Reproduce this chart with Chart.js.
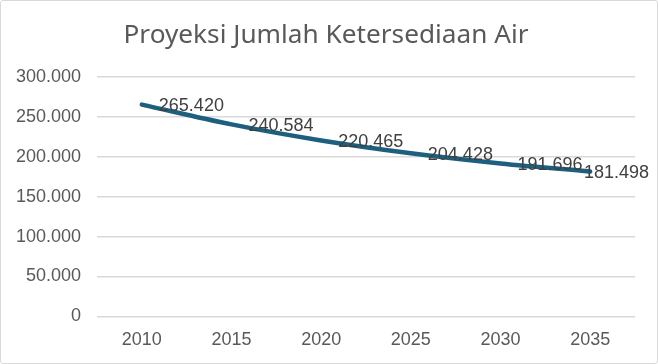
<!DOCTYPE html>
<html>
<head>
<meta charset="utf-8">
<script src="https://cdn.jsdelivr.net/npm/chart.js@4"></script>
<style>
  html, body { margin: 0; padding: 0; background: #fff; }
  #box { width: 658px; height: 364px; box-sizing: border-box; border: 1px solid #d9d9d9; border-radius: 3px; }
</style>
</head>
<body>
<div id="box"><canvas id="linechart"></canvas></div>
<script>
const years = ['2010', '2015', '2020', '2025', '2030', '2035'];
const airValues = [265420, 240584, 220465, 204428, 191696, 181498];
const yTicks = [0, 50000, 100000, 150000, 200000, 250000, 300000];
const titleText = 'Proyeksi Jumlah Ketersediaan Air';

const fmt = v => String(v).replace(/\B(?=(\d{3})+(?!\d))/g, '.');

// title drawn by hand so its width can be matched
const titlePlugin = {
    id: 'titlePlugin',
    beforeDraw(chart) {
        const ctx = chart.ctx;
        ctx.save();
        ctx.font = '25px "Noto Sans", "Open Sans", sans-serif';
        ctx.fillStyle = '#595959';
        ctx.textBaseline = 'alphabetic';
        const w = ctx.measureText(titleText).width;
        const target = 405;
        ctx.translate(chart.width / 2 - target / 2 - 3, 42);
        ctx.scale(target / w, 1);
        ctx.fillText(titleText, 0, 0);
        ctx.restore();
    }
};

// labels to the right of each point, pushed back inside the canvas if needed
const pointLabels = {
    id: 'pointLabels',
    afterDatasetsDraw(chart) {
        const ctx = chart.ctx;
        const meta = chart.getDatasetMeta(0);
        ctx.save();
        ctx.font = '18px "Liberation Sans", Arial, sans-serif';
        ctx.fillStyle = '#404040';
        ctx.textBaseline = 'middle';
        meta.data.forEach((pt, i) => {
            const txt = fmt(airValues[i]);
            const w = ctx.measureText(txt).width;
            let x = pt.x + 17;
            if (x + w > chart.width - 8) x = chart.width - 8 - w;
            ctx.fillText(txt, x, pt.y + 1.5);
        });
        ctx.restore();
    }
};

const ctx = document.getElementById('linechart').getContext('2d');
const linechart = new Chart(ctx, {
    type: 'line',
    data: {
        labels: years,
        datasets: [{
            label: 'Ketersediaan Air',
            data: airValues,
            borderColor: '#1c5f7e',
            borderWidth: 4.5,
            borderCapStyle: 'round',
            tension: 0.35,
            pointRadius: 0,
            fill: false
        }]
    },
    options: {
        responsive: true,
        maintainAspectRatio: false,
        animation: false,
        layout: { padding: { top: 76, right: 22, bottom: 7, left: 0 } },
        plugins: {
            legend: { display: false },
            tooltip: { enabled: false },
            title: { display: false }
        },
        scales: {
            x: {
                offset: true,
                grid: { display: false },
                border: { display: false },
                ticks: { color: '#595959', font: { family: '"Liberation Sans", Arial, sans-serif', size: 18 }, padding: 5 }
            },
            y: {
                min: 0,
                max: 300000,
                afterBuildTicks: axis => { axis.ticks = yTicks.map(v => ({ value: v })); },
                afterFit: axis => { axis.width = 96; },
                grid: { color: '#d9d9d9', lineWidth: 1.5, drawTicks: false },
                border: { display: false },
                ticks: {
                    color: '#595959',
                    font: { family: '"Liberation Sans", Arial, sans-serif', size: 18 },
                    padding: 16,
                    callback: v => fmt(v)
                }
            }
        }
    },
    plugins: [titlePlugin, pointLabels]
});
</script>
</body>
</html>
